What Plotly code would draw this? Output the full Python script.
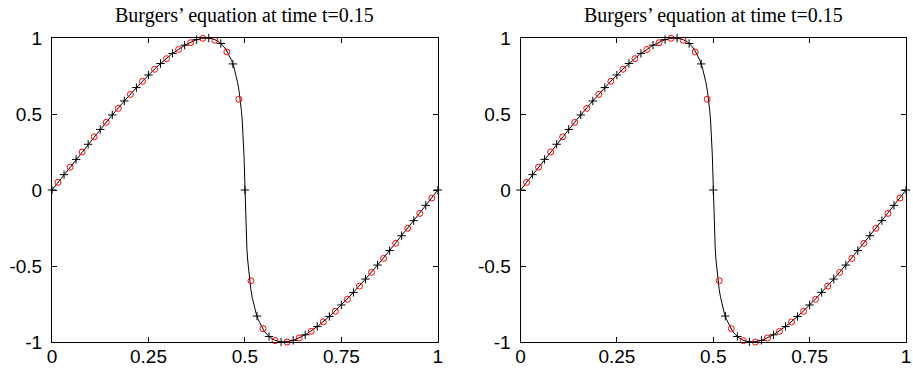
import plotly.graph_objects as go

# Smooth reference solution u(x) at t = 0.15
line_x = [0, 0.048465, 0.096353, 0.143099, 0.188168, 0.231066, 0.271353, 0.308651,
          0.342659, 0.358356, 0.373153, 0.387038, 0.4, 0.412038, 0.423153, 0.433356,
          0.442659, 0.451082, 0.458651, 0.465396, 0.471353, 0.476562, 0.481066,
          0.484918, 0.488168, 0.490875, 0.493099, 0.494902, 0.496353, 0.497518,
          0.498465, 0.499269, 0.5,
          0.500731, 0.501535, 0.502482, 0.503647, 0.505098, 0.506901, 0.509125,
          0.511832, 0.515082, 0.518934, 0.523438, 0.528647, 0.534604, 0.541349,
          0.548918, 0.557341, 0.566644, 0.576847, 0.587962, 0.6, 0.612962, 0.626847,
          0.641644, 0.657341, 0.691349, 0.728647, 0.768934, 0.811832, 0.856901,
          0.903647, 0.951535, 1]
line_u = [0, 0.156434, 0.309017, 0.453990, 0.587785, 0.707107, 0.809017, 0.891007,
          0.951057, 0.97237, 0.987688, 0.99692, 1, 0.99692, 0.987688, 0.97237,
          0.951057, 0.92388, 0.891007, 0.85264, 0.809017, 0.76041, 0.707107,
          0.64945, 0.587785, 0.52250, 0.453990, 0.38268, 0.309017, 0.23345,
          0.156434, 0.07846, 0,
          -0.07846, -0.156434, -0.23345, -0.309017, -0.38268, -0.453990, -0.52250,
          -0.587785, -0.64945, -0.707107, -0.76041, -0.809017, -0.85264, -0.891007,
          -0.92388, -0.951057, -0.97237, -0.987688, -0.99692, -1, -0.99692, -0.987688,
          -0.97237, -0.951057, -0.891007, -0.809017, -0.707107, -0.587785, -0.453990,
          -0.309017, -0.156434, 0]

# Nodal values on the 33-point grid
node_x = [0, 0.03125, 0.0625, 0.09375, 0.125, 0.15625, 0.1875, 0.21875, 0.25,
          0.28125, 0.3125, 0.34375, 0.375, 0.40625, 0.4375, 0.46875, 0.5,
          0.53125, 0.5625, 0.59375, 0.625, 0.65625, 0.6875, 0.71875, 0.75,
          0.78125, 0.8125, 0.84375, 0.875, 0.90625, 0.9375, 0.96875, 1]
node_u = [0, 0.1010, 0.2014, 0.3008, 0.3985, 0.4938, 0.5859, 0.6738, 0.7564,
          0.8321, 0.8986, 0.9527, 0.9892, 0.9992, 0.9638, 0.8294, 0,
          -0.8294, -0.9638, -0.9992, -0.9892, -0.9527, -0.8986, -0.8321, -0.7564,
          -0.6738, -0.5859, -0.4938, -0.3985, -0.3008, -0.2014, -0.1010, 0]

# Cell-centred values on 32 cells
cell_x = [0.015625, 0.046875, 0.078125, 0.109375, 0.140625, 0.171875, 0.203125,
          0.234375, 0.265625, 0.296875, 0.328125, 0.359375, 0.390625, 0.421875,
          0.453125, 0.484375, 0.515625, 0.546875, 0.578125, 0.609375, 0.640625,
          0.671875, 0.703125, 0.734375, 0.765625, 0.796875, 0.828125, 0.859375,
          0.890625, 0.921875, 0.953125, 0.984375]
cell_u = [0.05, 0.15, 0.25, 0.35, 0.445, 0.537, 0.629, 0.715, 0.794, 0.864,
          0.925, 0.969, 0.998, 0.985, 0.908, 0.597, -0.597, -0.912, -0.991, -1.0,
          -0.974, -0.930, -0.868, -0.798, -0.719, -0.632, -0.542, -0.450, -0.351,
          -0.252, -0.154, -0.053]

x_ticks = [0, 0.25, 0.5, 0.75, 1]
x_ticklabels = ["0", "0.25", "0.5", "0.75", "1"]
y_ticks = [-1, -0.5, 0, 0.5, 1]
y_ticklabels = ["-1", "-0.5", "0", "0.5", "1"]

panel_title = "Burgers\u2019 equation at time t=0.15"

W, H = 913, 370
ML, MR, MT, MB = 52, 7, 38, 28
domains = [[0, 0.4518], [0.5486, 1]]

fig = go.Figure()
for k in range(2):
    xa = "x" if k == 0 else "x2"
    ya = "y" if k == 0 else "y2"
    fig.add_trace(go.Scatter(x=line_x, y=line_u, mode="lines",
                             line=dict(color="black", width=1),
                             xaxis=xa, yaxis=ya, cliponaxis=False, hoverinfo="skip"))
    fig.add_trace(go.Scatter(x=node_x, y=node_u, mode="markers",
                             marker=dict(symbol="cross-thin-open", size=6, color="black",
                                         line=dict(color="black", width=1)),
                             xaxis=xa, yaxis=ya, cliponaxis=False))
    fig.add_trace(go.Scatter(x=cell_x, y=cell_u, mode="markers",
                             marker=dict(symbol="circle-open", size=6, color="red",
                                         line=dict(color="red", width=1)),
                             xaxis=xa, yaxis=ya, cliponaxis=False))

axis_common = dict(showgrid=False, zeroline=False, showline=True, linecolor="black",
                   linewidth=1, mirror="ticks", ticks="inside", ticklen=5,
                   tickwidth=1, tickcolor="black", automargin=False,
                   tickfont=dict(family="Liberation Sans, Arial, sans-serif",
                                 size=19, color="black"))

layout = dict(width=W, height=H,
              margin=dict(l=ML, r=MR, t=MT, b=MB, autoexpand=False),
              paper_bgcolor="white", plot_bgcolor="white", showlegend=False)
annotations = []
for k, dom in enumerate(domains):
    sx = "" if k == 0 else "2"
    layout["xaxis" + sx] = dict(axis_common, domain=dom, range=[0, 1],
                                tickmode="array", tickvals=x_ticks,
                                ticktext=x_ticklabels, anchor="y" + sx,
                                ticklabelstandoff=-3)
    layout["yaxis" + sx] = dict(axis_common, domain=[0, 1], range=[-1, 1],
                                tickmode="array", tickvals=y_ticks,
                                ticktext=y_ticklabels, anchor="x" + sx,
                                ticklabelstandoff=5)
    annotations.append(dict(text=panel_title, xref="paper", yref="paper",
                            x=(dom[0] + dom[1]) / 2, y=1.075, xanchor="center",
                            yanchor="middle", showarrow=False,
                            font=dict(family="Liberation Serif, Times New Roman, serif",
                                      size=20, color="black")))
layout["annotations"] = annotations
fig.update_layout(**layout)

fig.write_html("out.html")
